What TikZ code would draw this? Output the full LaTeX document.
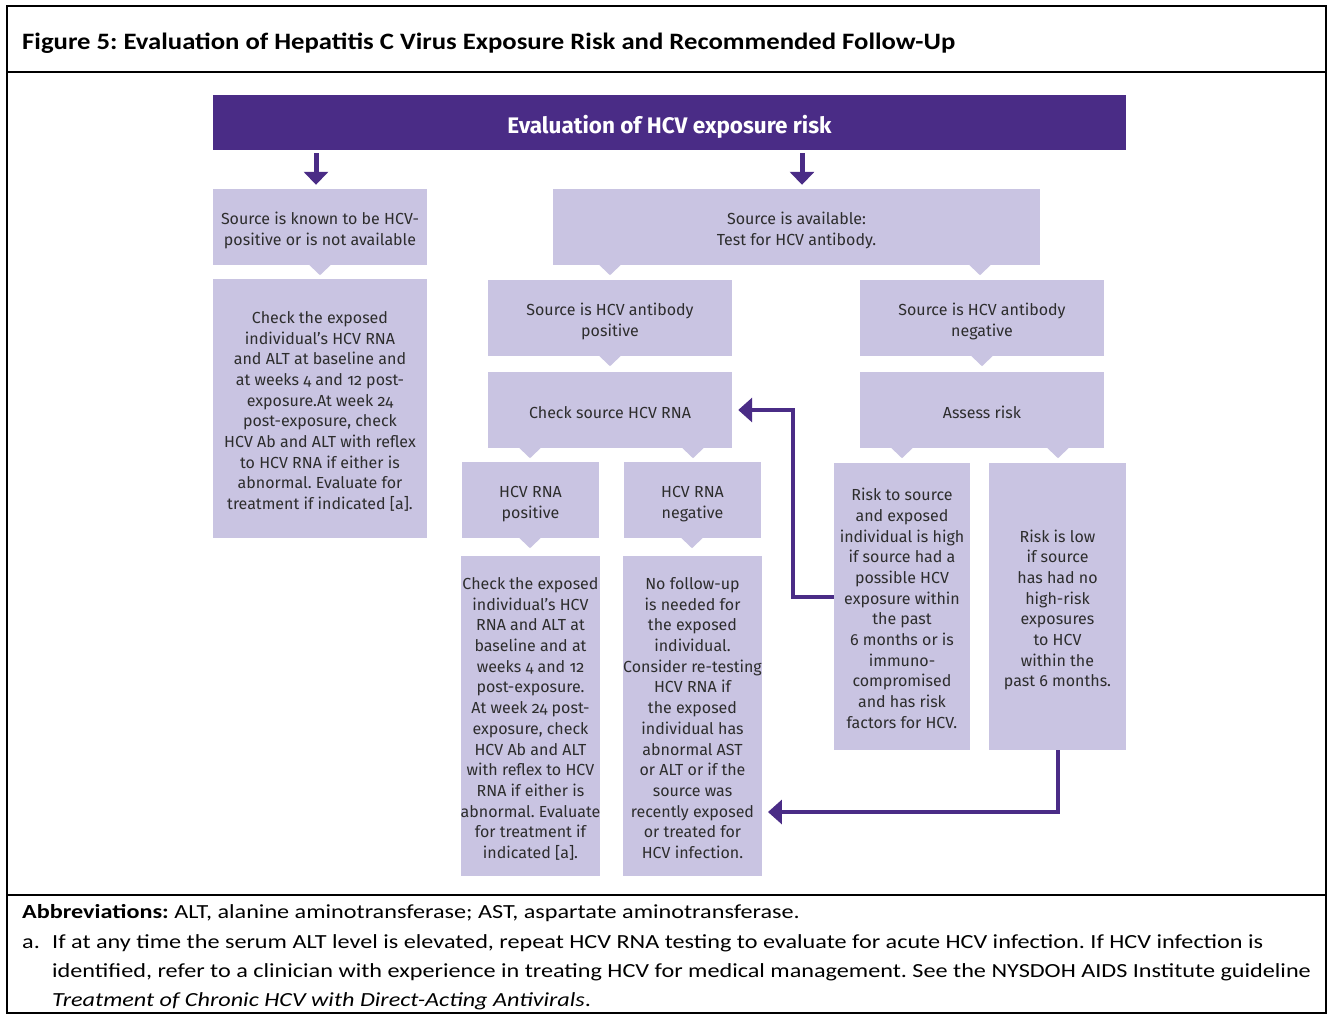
\documentclass[tikz,border=0pt]{standalone}
\usepackage{fontspec}
\setmainfont{Carlito}
\newfontfamily\titlefont[FakeStretch=1.136]{Carlito}
\newfontfamily\footfont[FakeStretch=1.21]{Carlito}
\newfontfamily\boxfont[Numbers=OldStyle]{Fira Sans}
\usetikzlibrary{arrows.meta,calc}
\definecolor{hpurple}{RGB}{74,44,134}
\definecolor{hlav}{RGB}{201,196,226}
\definecolor{htext}{RGB}{45,45,45}
\newcommand\hnotch[2]{\fill[hlav] (#2,0 |- #1.south) ++(-11,-0.5) -- ++(22,0) -- ++(-11,10.5) -- cycle;}
\newcommand\bt{\rule{0pt}{20pt}}
\newcommand\bb{\rule[-4pt]{0pt}{0pt}}
\frenchspacing
\begin{document}
\begin{tikzpicture}[x=1pt,y=-1pt,
  box/.style={fill=hlav, inner sep=0pt, align=center, text=htext,
    font=\boxfont\fontsize{16}{20.7}\selectfont},
  conn/.style={draw=hpurple, line width=4pt, -{Triangle[length=14pt,width=24pt]}},
  downarr/.style={draw=hpurple, line width=5pt, -{Triangle[length=13pt,width=24pt]}},
  frame/.style={draw=black, line width=2pt},
  foot/.style={anchor=base west, inner sep=0pt, font=\footfont\fontsize{20}{24}\selectfont}]
\useasboundingbox (0,0) rectangle (1333,1015);
\fill[white] (0,0) rectangle (1333,1015);
% frame
\draw[frame] (7,6) rectangle (1326,1013);
\draw[frame] (7,72) -- (1326,72);
\draw[frame] (7,895) -- (1326,895);
\node[anchor=base west, inner sep=0pt, font=\titlefont\bfseries\fontsize{23.5}{28}\selectfont] (title) at (22,49.5)
  {Figure 5: Evaluation of Hepatitis C Virus Exposure Risk and Recommended Follow-Up};
% header bar
\node[fill=hpurple, minimum width=913pt, minimum height=55pt, inner sep=0pt, text=white,
  text height=24pt, text depth=1.5pt,
  font=\boxfont\bfseries\fontsize{22.5}{26}\selectfont] (H0) at (669.5,122.5) {Evaluation of HCV exposure risk};
% boxes
\node[box, minimum width=214pt, minimum height=76pt] (A) at (320,227)
  {\bt Source is known to be HCV-\\positive or is not available\bb};
\node[box, minimum width=214pt, minimum height=259pt] (B) at (320,408.5)
  {\bt Check the exposed\\individual’s HCV RNA\\and ALT at baseline and\\at weeks 4 and 12 post-\\exposure.At week 24\\post-exposure, check\\HCV Ab and ALT with reflex\\to HCV RNA if either is\\abnormal. Evaluate for\\treatment if indicated [a].\bb};
\node[box, minimum width=487pt, minimum height=76pt] (C) at (796.5,227)
  {\bt Source is available:\\Test for HCV antibody.\bb};
\node[box, minimum width=244pt, minimum height=76pt] (D) at (610,318)
  {\bt Source is HCV antibody\\positive\bb};
\node[box, minimum width=244pt, minimum height=76pt] (E) at (982,318)
  {\bt Source is HCV antibody\\negative\bb};
\node[box, minimum width=244pt, minimum height=76pt] (F) at (610,410)
  {\bt Check source HCV RNA\bb};
\node[box, minimum width=244pt, minimum height=76pt] (G) at (982,410)
  {\bt Assess risk\bb};
\node[box, minimum width=137pt, minimum height=76pt] (H) at (530.5,500)
  {\bt HCV RNA\\positive\bb};
\node[box, minimum width=137pt, minimum height=76pt] (I) at (692.5,500)
  {\bt HCV RNA\\negative\bb};
\node[box, minimum width=137pt, minimum height=320pt] (J) at (530.5,716)
  {\bt Check the exposed\\individual’s HCV\\RNA and ALT at\\baseline and at\\weeks 4 and 12\\post-exposure.\\At week 24 post-\\exposure, check\\HCV Ab and ALT\\with reflex to HCV\\RNA if either is\\abnormal. Evaluate\\for treatment if\\indicated [a].\bb};
\node[box, minimum width=137pt, minimum height=320pt] (K) at (692.5,716)
  {\bt No follow-up\\is needed for\\the exposed\\individual.\\Consider re-testing\\HCV RNA if\\the exposed\\individual has\\abnormal AST\\or ALT or if the\\source was\\recently exposed\\or treated for\\HCV infection.\bb};
\node[box, minimum width=136pt, minimum height=287pt] (L) at (902,606.5)
  {\bt Risk to source\\and exposed\\individual is high\\if source had a\\possible HCV\\exposure within\\the past\\6 months or is\\immuno-\\compromised\\and has risk\\factors for HCV.\bb};
\node[box, minimum width=137pt, minimum height=287pt] (M) at (1057.5,606.5)
  {\bt Risk is low\\if source\\has had no\\high-risk\\exposures\\to HCV\\within the\\past 6 months.\bb};
% notches
\hnotch{A}{320}
\hnotch{C}{610}
\hnotch{C}{980}
\hnotch{D}{610}
\hnotch{E}{982}
\hnotch{F}{530}
\hnotch{F}{693}
\hnotch{G}{902}
\hnotch{G}{1058}
\hnotch{H}{530}
\hnotch{I}{692}
% arrows from header
\draw[downarr] ($(A.north |- H0.south)+(-4,3)$) -- ($(A.north)+(-4,-4)$);
\draw[downarr] ($(C.north |- H0.south)+(5.5,3)$) -- ($(C.north)+(5.5,-4)$);
% connectors
\draw[conn] ([yshift=9.5pt]L.west) -- ++(-41,0) |- ([xshift=6pt]F.east);
\draw[conn] (M.south) |- ([xshift=6pt,yshift=-96pt]K.east);
% footer
\node[foot] (ab) at (22,918) {\textbf{Abbreviations:} ALT, alanine aminotransferase; AST, aspartate aminotransferase.};
\node[foot] (fa) at (22,948) {a.};
\node[foot] (f1) at (52,948) {If at any time the serum ALT level is elevated, repeat HCV RNA testing to evaluate for acute HCV infection. If HCV infection is};
\node[foot] (f2) at (52,977) {identified, refer to a clinician with experience in treating HCV for medical management. See the NYSDOH AIDS Institute guideline};
\node[foot] (f3) at (52,1006) {\textit{Treatment of Chronic HCV with Direct-Acting Antivirals}.};
\end{tikzpicture}
\end{document}
